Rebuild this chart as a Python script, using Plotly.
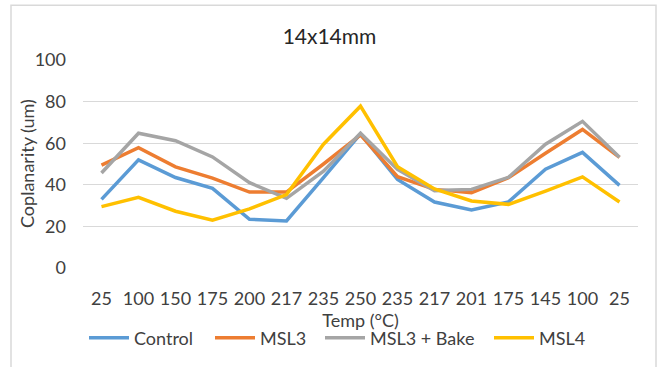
import plotly.graph_objects as go

# Reflow temperature profile steps (°C), in measurement order
temps = ["25", "100", "150", "175", "200", "217", "235", "250",
         "235", "217", "201", "175", "145", "100", "25"]

# Coplanarity (um) per condition
control = [33, 52, 43.5, 38.3, 23.4, 22.6, 43.5, 64.5, 42.6, 31.7, 27.9, 31.8, 47.5, 55.6, 39.7]
msl3 = [49.5, 57.8, 48.6, 43.2, 36.5, 36.5, 50, 64, 43.9, 37.8, 36.2, 43.4, 55.2, 66.6, 53.2]
msl3_bake = [45.7, 64.8, 61.2, 53.4, 41, 33.5, 46.5, 64.8, 47.4, 37.2, 37.8, 43.6, 59.5, 70.5, 53.3]
msl4 = [29.5, 34, 27.3, 23, 28.4, 35.3, 59.5, 77.8, 48.7, 38, 32.2, 30.6, 37, 43.8, 31.7]

series = [
    ("Control", control, "#5B9BD5"),
    ("MSL3", msl3, "#ED7D31"),
    ("MSL3 + Bake", msl3_bake, "#A5A5A5"),
    ("MSL4", msl4, "#FFC000"),
]

# left edge of each legend box, in pixels from the figure's left side
legend_px = [84, 210, 320, 489]

W, H = 659, 367
ML, MR, MT, MB = 83, 21, 60, 98
PW, PH = W - ML - MR, H - MT - MB

pos = list(range(len(temps)))
font_family = "Lato, 'Noto Sans', sans-serif"
text_col = "#404040"

fig = go.Figure()
legends = {}
for i, (name, vals, col) in enumerate(series):
    key = "legend" if i == 0 else f"legend{i + 1}"
    fig.add_trace(go.Scatter(
        x=pos, y=vals, name=name, mode="lines",
        line=dict(color=col, width=3.5), legend=key,
    ))
    legends[key] = dict(
        orientation="h", x=(legend_px[i] - ML) / PW, xanchor="left",
        y=-0.33, yanchor="middle", font=dict(size=18, family=font_family, color=text_col),
        itemwidth=40, bgcolor="rgba(0,0,0,0)", borderwidth=0,
    )

fig.update_layout(
    width=W, height=H,
    margin=dict(l=ML, r=MR, t=MT, b=MB),
    paper_bgcolor="white", plot_bgcolor="white",
    font=dict(family=font_family, size=18, color=text_col),
    title=dict(text="14x14mm", x=0.5, xanchor="center", y=0.9, yanchor="middle",
               font=dict(size=21, color="#262626")),
    showlegend=True,
    xaxis=dict(
        tickmode="array", tickvals=pos, ticktext=temps,
        range=[-0.5, len(temps) - 0.5],
        showgrid=False, zeroline=False, showline=False,
        ticks="", ticklabelstandoff=18,
        title=dict(text="Temp (°C)", standoff=4, font=dict(size=18)),
        automargin=False,
    ),
    yaxis=dict(
        range=[0, 100], tickvals=[0, 20, 40, 60, 80, 100],
        showgrid=True, gridcolor="#D9D9D9", gridwidth=1.3,
        zeroline=False, showline=False, ticks="", ticklabelstandoff=16,
        automargin=False,
    ),
    annotations=[dict(text="Coplanarity (um)", textangle=-90,
                      xref="paper", yref="paper", x=(27 - ML) / PW, y=0.5,
                      xanchor="center", yanchor="middle", showarrow=False,
                      font=dict(size=18, family=font_family, color=text_col))],
    shapes=[dict(type="rect", xref="paper", yref="paper",
                 x0=(11 - ML) / PW, x1=(656 - ML) / PW,
                 y0=-0.6, y1=(H - MB - 5) / PH,
                 line=dict(color="#D9D9D9", width=1.5), fillcolor="rgba(0,0,0,0)",
                 layer="below")],
    **legends,
)

fig.write_html("out.html")
